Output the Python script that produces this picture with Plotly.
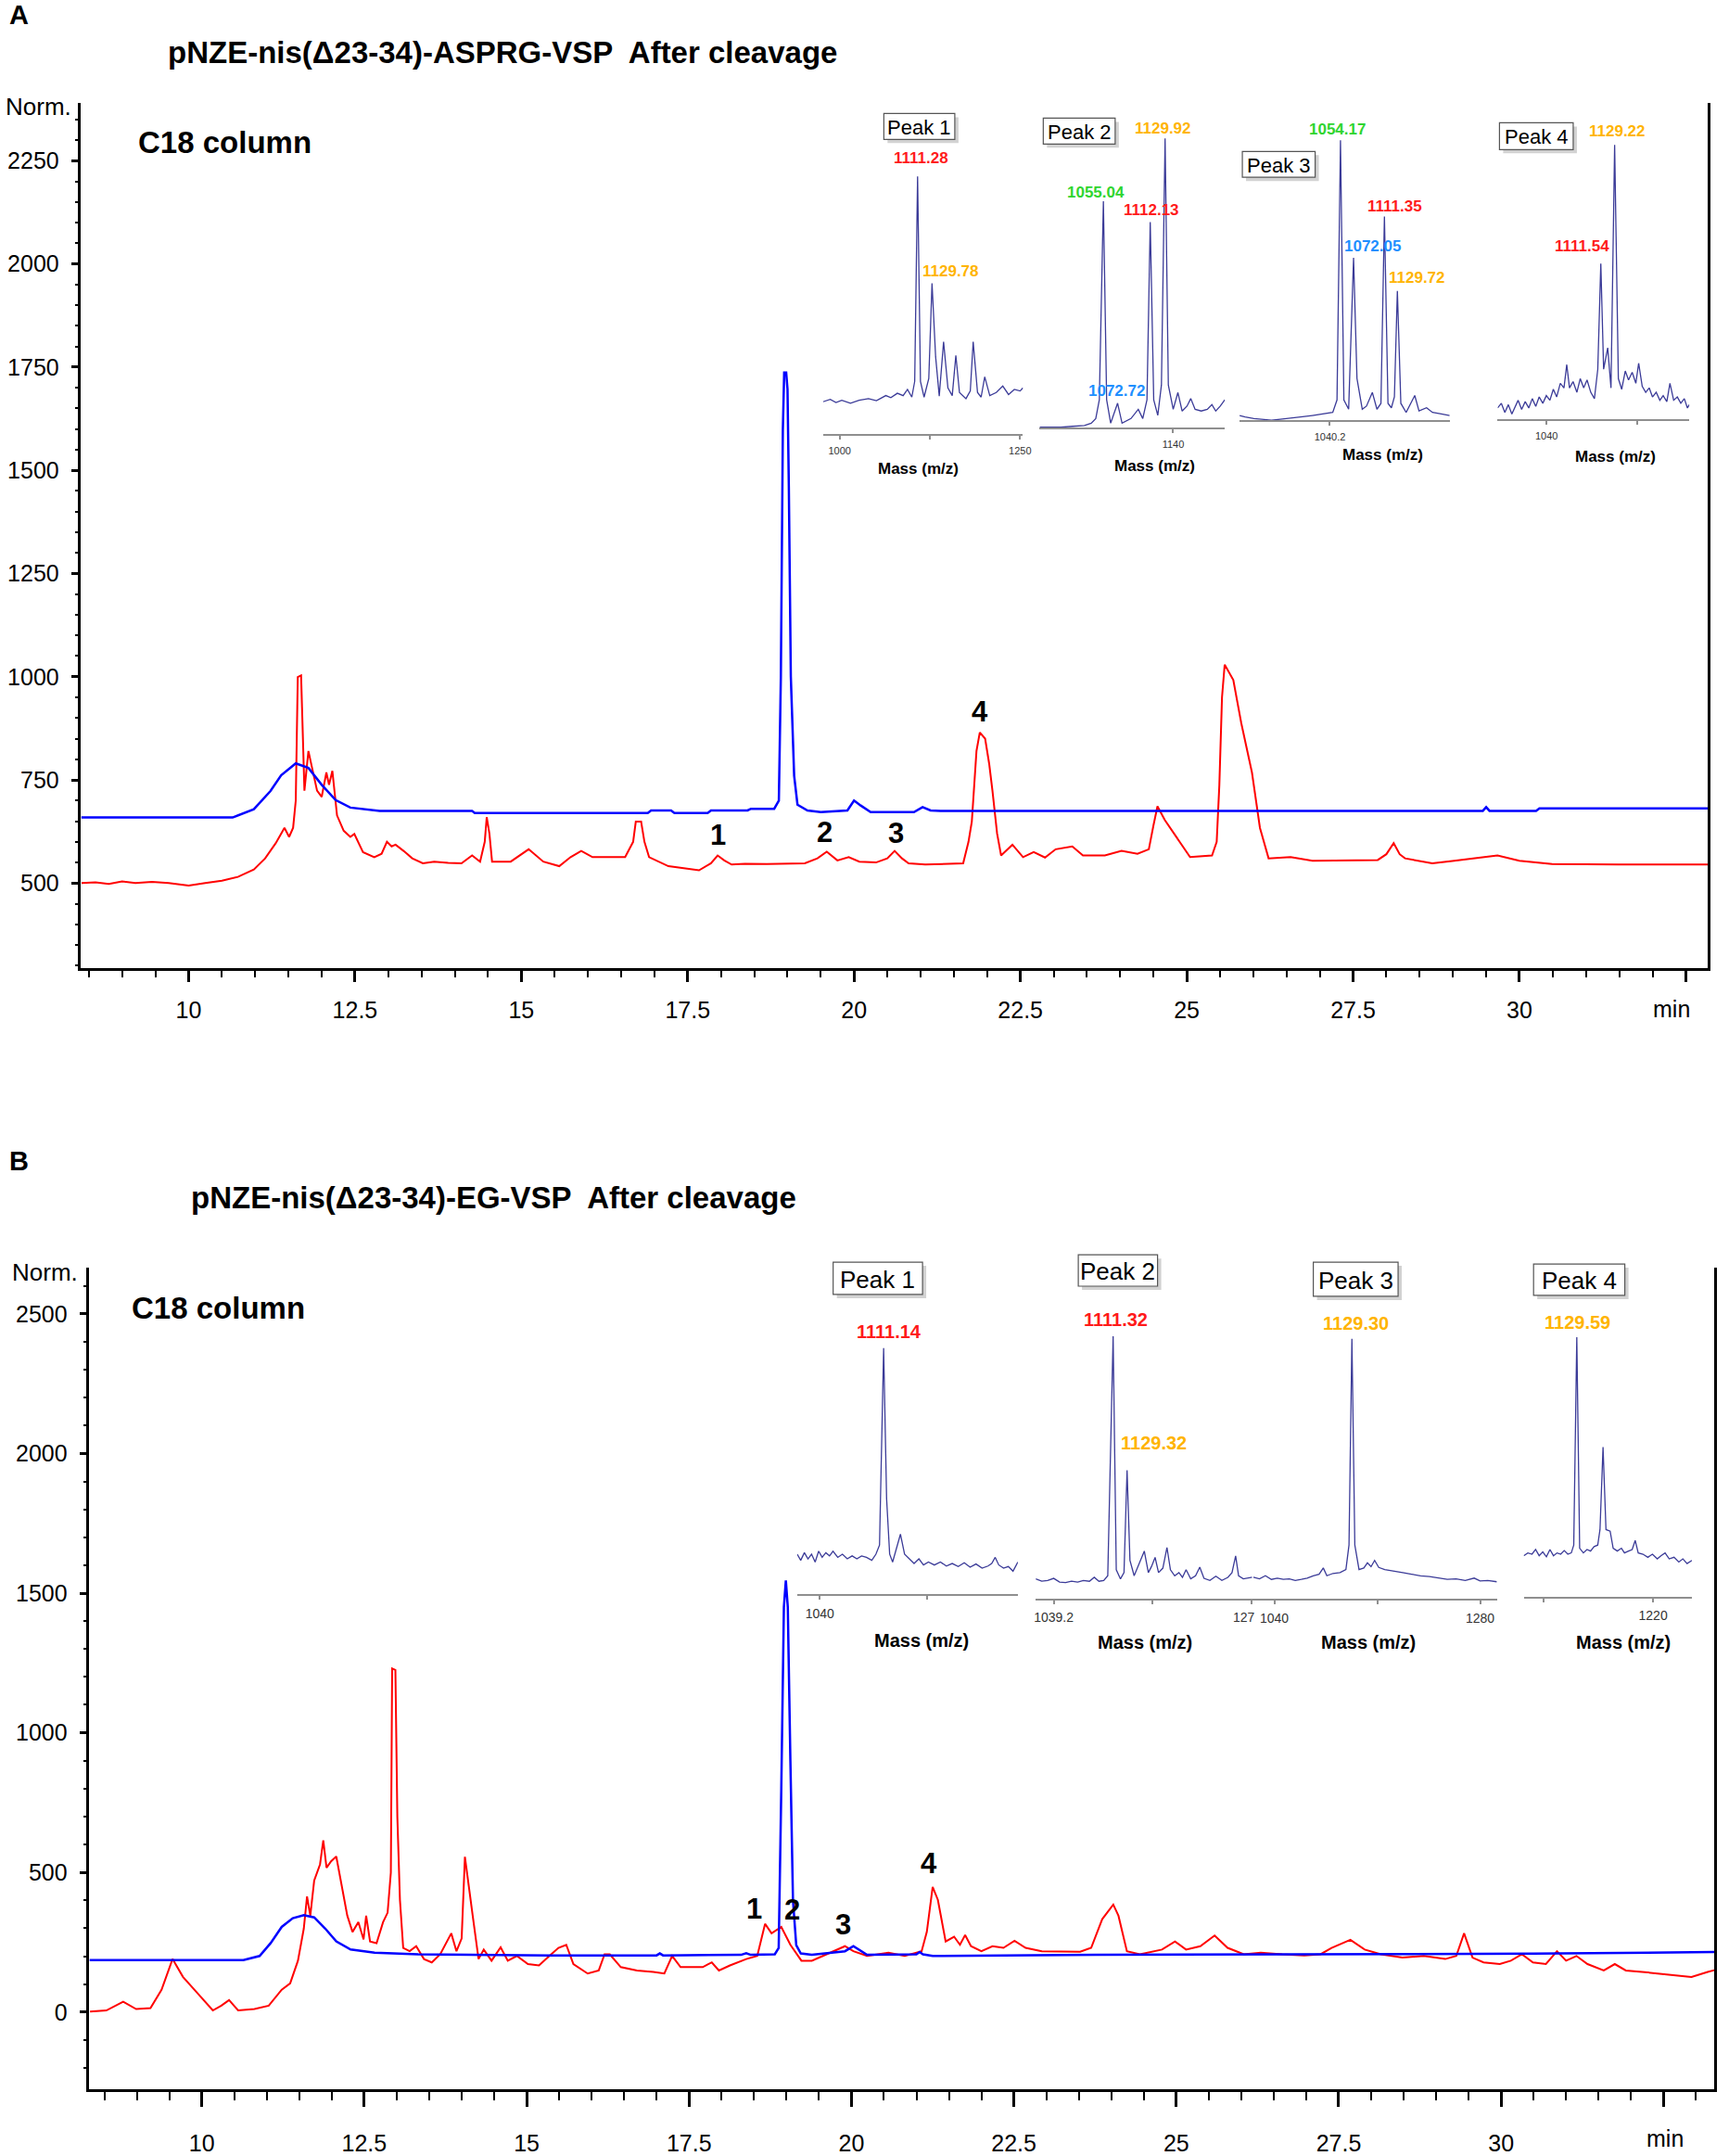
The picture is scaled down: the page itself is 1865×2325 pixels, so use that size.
import plotly.graph_objects as go

W, H = 1865, 2325
FONT = "Liberation Sans, Arial, Helvetica, sans-serif"


def fx(p):
    return p / W


def fy(p):
    return 1 - p / H


# ---------------- Panel A chromatogram (time in min, Norm.) ----------------
a_red_t = [8.39, 8.6, 8.8, 9.0, 9.2, 9.45, 9.7, 9.85, 10.0, 10.25, 10.5, 10.74, 10.98, 11.15, 11.31,
           11.44, 11.51, 11.57, 11.61, 11.64, 11.69, 11.74, 11.8, 11.85, 11.93, 12.0, 12.07, 12.11,
           12.16, 12.23, 12.33, 12.43, 12.49, 12.62, 12.79, 12.9, 12.98, 13.05, 13.11, 13.23, 13.36,
           13.52, 13.69, 13.9, 14.1, 14.26, 14.38, 14.45, 14.48, 14.52, 14.56, 14.84, 15.11, 15.33,
           15.57, 15.74, 15.9, 16.07, 16.56, 16.68, 16.72, 16.8, 16.85, 16.92, 17.21, 17.67, 17.85,
           17.95, 18.05, 18.16, 18.36, 18.69, 19.26, 19.45, 19.59, 19.75, 19.92, 20.08, 20.33, 20.5,
           20.61, 20.72, 20.82, 21.07, 21.64, 21.72, 21.77, 21.84, 21.89, 21.97, 22.03, 22.08, 22.15,
           22.21, 22.38, 22.54, 22.7, 22.87, 23.03, 23.28, 23.44, 23.77, 24.02, 24.26, 24.43, 24.5,
           24.56, 24.67, 24.84, 25.05, 25.38, 25.45, 25.49, 25.53, 25.57, 25.7, 25.82, 25.98, 26.1,
           26.23, 26.56, 26.89, 27.87, 28.0, 28.11, 28.2, 28.28, 28.69, 29.02, 29.67, 30.0, 30.49,
           31.48, 32.83]
a_red_v = [500, 502, 498, 504, 500, 503, 500, 497, 494, 500, 506, 515, 533, 560, 597,
           634, 612, 634, 700, 999, 1003, 724, 820, 783, 724, 709, 768, 738,
           772, 664, 627, 612, 619, 575, 563, 571, 600, 589, 593, 578, 560,
           548, 552, 549, 548, 567, 552, 600, 660, 620, 552, 552, 582, 552,
           541, 563, 578, 563, 563, 600, 649, 649, 600, 563, 541, 531, 548,
           567, 555, 545, 547, 546, 548, 560, 576, 555, 563, 552, 550, 560,
           578, 560, 548, 545, 548, 600, 649, 820, 865, 850, 790, 724, 620,
           567, 593, 563, 575, 562, 582, 589, 567, 567, 578, 571, 582, 640,
           686, 653, 612, 563, 567, 600, 738, 950, 1029, 992, 887, 768, 634,
           560, 563, 554, 556, 570, 597, 570, 560, 548, 554, 567, 554, 546,
           545, 545]

a_blue_t = [8.384, 10.66, 10.98, 11.23, 11.39, 11.61, 11.8, 12.0, 12.21, 12.43, 12.87, 14.26, 14.3,
            16.9, 16.95, 17.25, 17.3, 17.8, 17.85, 18.4, 18.45, 18.8, 18.87, 18.9, 18.93, 18.95,
            18.98, 19.0, 19.02, 19.05, 19.1, 19.15, 19.3, 19.5, 19.9, 20.0, 20.1, 20.25, 20.9,
            21.03, 21.15, 21.3, 25.0, 29.45, 29.5, 29.55, 30.25, 30.3, 32.83]
a_blue_v = [659, 659, 679, 723, 761, 790, 779, 738, 701, 683, 675, 675, 670,
            670, 676, 676, 670, 670, 676, 676, 680, 680, 700, 1000, 1598, 1737,
            1737, 1697, 1460, 1000, 760, 690, 676, 672, 676, 700, 688, 672, 672,
            684, 676, 675, 675, 675, 684, 675, 675, 681, 681]

# ---------------- Panel B chromatogram ----------------
b_red_t = [8.28, 8.53, 8.79, 8.99, 9.21, 9.38, 9.55, 9.71, 9.93, 10.17, 10.3, 10.42, 10.56, 10.81,
           11.03, 11.23, 11.36, 11.48, 11.57, 11.62, 11.67, 11.73, 11.82, 11.87, 11.92, 11.99, 12.07,
           12.15, 12.24, 12.32, 12.41, 12.49, 12.53, 12.59, 12.69, 12.79, 12.86, 12.91, 12.93, 12.98,
           13.01, 13.05, 13.1, 13.2, 13.3, 13.42, 13.54, 13.67, 13.84, 13.92, 14.0, 14.05, 14.09,
           14.17, 14.26, 14.34, 14.46, 14.6, 14.71, 14.85, 15.02, 15.19, 15.35, 15.49, 15.61, 15.72,
           15.94, 16.11, 16.2, 16.28, 16.45, 16.7, 16.95, 17.12, 17.24, 17.37, 17.71, 17.85, 17.96,
           18.13, 18.38, 18.55, 18.67, 18.77, 18.92, 19.06, 19.23, 19.39, 19.56, 19.73, 19.9, 20.03,
           20.24, 20.57, 20.82, 21.08, 21.16, 21.25, 21.33, 21.45, 21.58, 21.67, 21.75, 21.84, 22.0,
           22.17, 22.34, 22.51, 22.68, 22.93, 23.52, 23.69, 23.86, 24.03, 24.11, 24.24, 24.44, 24.78,
           24.98, 25.15, 25.37, 25.59, 25.79, 26.04, 26.3, 26.63, 26.97, 27.22, 27.39, 27.68, 27.9,
           28.15, 28.48, 28.81, 29.14, 29.31, 29.43, 29.56, 29.73, 29.98, 30.15, 30.32, 30.49, 30.69,
           30.86, 31.0, 31.16, 31.33, 31.58, 31.75, 31.92, 32.17, 32.42, 32.68, 32.93, 33.18, 33.28]
b_red_v = [2, 6, 37, 11, 14, 80, 190, 126, 69, 6, 23, 43, 6, 11,
           23, 80, 103, 184, 299, 414, 345, 471, 529, 615, 517, 540, 557,
           460, 345, 287, 322, 260, 345, 253, 247, 322, 356, 500, 1230, 1225,
           700, 402, 230, 218, 236, 190, 178, 207, 282, 218, 264, 556, 480,
           345, 190, 224, 184, 232, 184, 201, 172, 167, 201, 230, 241, 172,
           138, 149, 207, 207, 161, 149, 144, 138, 201, 161, 161, 178, 149,
           167, 190, 201, 316, 282, 305, 241, 184, 184, 201, 218, 236, 218,
           201, 213, 201, 218, 287, 448, 402, 253, 270, 241, 276, 236, 218,
           236, 230, 255, 230, 218, 216, 230, 333, 385, 345, 218, 207, 224,
           253, 224, 236, 274, 230, 207, 213, 207, 203, 207, 230, 259, 224,
           207, 195, 201, 190, 201, 282, 195, 178, 172, 184, 207, 178, 172,
           218, 184, 201, 172, 149, 172, 149, 144, 138, 132, 126, 144, 150]

b_blue_t = [8.27, 10.64, 10.89, 11.06, 11.23, 11.4, 11.57, 11.73, 11.9, 12.07, 12.29, 12.66, 13.33,
            15.35, 17.0, 17.05, 17.1, 18.3, 18.38, 18.45, 18.82, 18.88, 18.92, 18.96, 18.99, 19.02,
            19.06, 19.10, 19.15, 19.22, 19.39, 19.9, 20.03, 20.24, 21.0, 21.05, 21.1, 21.25, 23.76,
            27.13, 30.5, 33.28]
b_blue_v = [186, 186, 201, 247, 305, 336, 347, 339, 299, 253, 224, 213, 207,
            203, 203, 210, 203, 205, 211, 205, 207, 230, 800, 1450, 1545, 1450,
            900, 400, 240, 210, 205, 218, 236, 205, 207, 215, 207, 201, 205,
            207, 209, 215]

# ---------------- Inset mass spectra (m/z, relative intensity %) ----------------
sa1_mz = [977, 987, 995, 1003, 1015, 1027, 1040, 1051, 1064, 1071, 1080, 1088, 1094, 1100, 1104, 1108,
          1112, 1117, 1123.5, 1128, 1133, 1138, 1144, 1150, 1156, 1161, 1166, 1175, 1181, 1185, 1191,
          1196, 1201, 1208, 1217, 1226, 1234, 1242, 1250, 1254]
sa1_int = [12.5, 13.4, 12.2, 13.1, 11.9, 13.1, 13.7, 12.9, 14.9, 14.1, 15.8, 14.9, 17.3, 14.3, 20.4, 100,
           20.4, 14.3, 21.5, 58.5, 29.9, 14.7, 35.8, 17.9, 14.9, 30.5, 16.1, 13.7, 16.7, 35.8, 16.1,
           14.3, 22.2, 14.9, 16.1, 18.6, 15.3, 17.3, 16.7, 17.9]

sa2_mz = [975.4, 987, 1001.5, 1016, 1030.6, 1039, 1044.6, 1049, 1054, 1058, 1063, 1071.5, 1077, 1088,
          1097, 1102.5, 1107.7, 1111.7, 1116, 1121, 1125.5, 1130, 1134, 1140, 1145.8, 1151, 1157,
          1161.6, 1167, 1174.6, 1182, 1187.7, 1192.4, 1198, 1203.6]
sa2_int = [0.1, 0, 0.1, 0.4, 0.7, 1.5, 3.1, 9.6, 78.3, 9.6, 1.5, 8.4, 1.5, 3.1,
           6.3, 3.1, 9.6, 71.1, 9.6, 4.2, 14.7, 100, 14.7, 6.3, 12.1, 5.7, 7.4,
           10.0, 6.3, 5.7, 6.3, 7.9, 5.7, 7.4, 9.6]

sa3_mz = [920.8, 928.1, 939.8, 951.4, 963, 974.5, 986.2, 1001.5, 1017, 1032.5, 1044, 1049.6, 1054.2,
          1058.7, 1065, 1071.5, 1076, 1083, 1088.6, 1096.3, 1102.4, 1107.7, 1112.3, 1117, 1121.5,
          1125.5, 1129.4, 1134, 1141, 1152.4, 1158, 1168, 1175.8, 1187.5, 1198.6]
sa3_int = [1.65, 1.1, 0.56, 0.3, 0, 0.3, 0.56, 1.1, 1.65, 2.2, 2.75, 7.2, 100,
           7.2, 3.9, 58, 14.9, 3.9, 5.0, 9.9, 3.9, 6.0, 72.8, 6.0, 4.4,
           8.3, 46.2, 6.0, 2.75, 8.8, 3.3, 4.4, 2.75, 2.2, 1.65]

sa4_mz = [975.7, 980.6, 985.2, 989.8, 994.4, 999, 1002.7, 1007.3, 1012, 1016.7, 1021.3, 1025.9, 1030.4,
          1035.2, 1039.8, 1044.5, 1049, 1053.4, 1058.2, 1063, 1066.7, 1070.3, 1075, 1080, 1084.4,
          1089, 1093.4, 1098.3, 1103.1, 1107.5, 1111.5, 1115.2, 1120.6, 1124.9, 1129.7, 1134.6,
          1139, 1143.7, 1148, 1152.8, 1157.6, 1161.3, 1166, 1170.6, 1175.2, 1179.5, 1184.4, 1189.2,
          1193.6, 1198.4, 1202.5, 1207.4, 1212.2, 1216.8, 1221.4, 1225.5, 1228]
sa4_int = [4.1, 5.8, 2.5, 5.3, 1.9, 4.7, 6.9, 3.6, 6.4, 4.1, 7.5, 4.7, 8.1,
           5.8, 8.6, 6.9, 10.9, 8.1, 13.1, 11.4, 19.9, 11.4, 13.7, 9.8, 14.8,
           11.4, 14.3, 9.8, 7.5, 18.2, 56.7, 18.2, 26.0, 11.4, 100, 14.8,
           10.9, 17.6, 14.3, 17.1, 13.1, 20.4, 12.0, 9.8, 11.4, 8.1, 9.8, 6.9,
           8.6, 6.4, 13.1, 6.9, 8.1, 5.8, 7.5, 4.1, 5.3]

sb1_mz = [1014.8, 1018.7, 1022.8, 1026.8, 1030.8, 1034.8, 1038.7, 1042.6, 1046.7, 1050.8, 1054.7, 1060,
          1065.2, 1070.6, 1076, 1081.3, 1086.5, 1091.9, 1097.9, 1102.5, 1106.5, 1111.1, 1114.4,
          1117.8, 1121.1, 1125.1, 1129.8, 1134.4, 1139.7, 1145, 1150.4, 1155.5, 1161, 1167.6, 1174.3,
          1181, 1187.5, 1194.2, 1200.9, 1207.4, 1214, 1220.8, 1227.4, 1231.5, 1235.4, 1239.4, 1244.7,
          1250, 1255.2, 1260.6]
sb1_int = [16.3, 13.8, 16.9, 14.4, 16.3, 13.1, 17.5, 15.0, 16.9, 15.6, 17.5, 15.0,
           16.3, 14.4, 15.6, 14.4, 15.6, 15.0, 13.8, 16.3, 20.0, 100, 38.8,
           16.3, 13.1, 18.8, 24.4, 16.3, 14.4, 12.5, 14.4, 11.9, 13.1, 11.9, 13.1,
           11.5, 12.5, 11.3, 12.8, 11.0, 12.3, 10.6, 11.5, 12.5, 15.0, 11.9, 10.6,
           11.3, 9.4, 13.1]

sb2_mz = [1017.4, 1024.7, 1031.9, 1039.2, 1046.4, 1053.6, 1060.9, 1068.2, 1075.3, 1082.5, 1088.4,
          1094.1, 1099.9, 1104.8, 1111.3, 1115.1, 1120.2, 1124.5, 1128.2, 1131.7, 1136.8, 1143.4,
          1149.1, 1154, 1157.8, 1162.2, 1166.4, 1171.6, 1176.6, 1180.8, 1186, 1191.1, 1195.4, 1199.8,
          1205.4, 1211.3, 1216.4, 1221.5, 1228.7, 1235.9, 1243.2, 1250.5, 1255.5, 1259.9, 1263.5,
          1269.2, 1275.1, 1280.1]
sb2_int = [7.4, 6.5, 6.8, 7.6, 6.2, 6.0, 6.5, 6.2, 6.8, 6.5, 8.0,
           6.5, 6.8, 8.6, 100, 10.9, 7.4, 9.8, 48.9, 14.5, 8.6, 13.3,
           18.0, 9.8, 12.1, 15.6, 9.8, 11.5, 19.4, 10.9, 8.6, 9.8, 8.0, 10.9,
           7.4, 8.6, 11.9, 7.6, 6.8, 8.4, 6.8, 8.0, 9.8, 16.2, 8.6,
           7.4, 7.6, 8.0]

sb3_mz = [1015.6, 1022.7, 1029.6, 1036.6, 1043.5, 1050.5, 1057.5, 1064.4, 1071.5, 1078.3, 1085.3,
          1092.2, 1097.1, 1101.3, 1108.3, 1116.6, 1123.5, 1127.1, 1130.5, 1133.9, 1138.8, 1144.4,
          1148.6, 1152.8, 1157, 1161.8, 1168.8, 1179.2, 1189.7, 1200, 1210.5, 1220.9, 1231.3, 1241.7,
          1252, 1262.7, 1273.1, 1280, 1289, 1299.6]
sb3_int = [8.3, 7.7, 8.9, 7.5, 8.0, 7.5, 7.7, 7.1, 7.5, 8.0, 8.9,
           9.5, 11.9, 8.9, 9.8, 10.1, 11.3, 20.7, 100, 20.7, 11.3, 11.9,
           13.9, 12.4, 14.8, 12.1, 11.3, 10.6, 10.1, 9.5, 8.9, 8.6, 8.0, 7.5,
           7.7, 7.1, 8.0, 6.9, 7.1, 6.6]

sb4_mz = [1066.7, 1071.6, 1076.5, 1080.8, 1085, 1089.3, 1093.6, 1097.8, 1102, 1106.2, 1110.5, 1114.7,
          1119, 1123.1, 1126, 1129.6, 1133, 1137.4, 1141.7, 1145.9, 1150.1, 1154.4, 1157.1, 1160.7,
          1164.2, 1169.1, 1172.7, 1177.6, 1182.5, 1186.1, 1191, 1195.2, 1198.8, 1202.4, 1208, 1213.8,
          1219.2, 1225, 1229.3, 1234.2, 1239.1, 1244.8, 1250.5, 1255.3, 1260.3, 1266]
sb4_int = [15.7, 16.8, 16.3, 18.1, 15.7, 17.2, 15.3, 18.1, 15.7, 16.8, 16.3, 17.7,
           16.3, 16.8, 19.8, 100, 18.6, 16.8, 18.1, 17.5, 19.2, 19.8, 25.8, 57.6,
           25.8, 25.2, 18.6, 17.5, 18.6, 16.8, 17.5, 18.1, 21.6, 16.8, 16.3, 15.1,
           16.3, 14.5, 15.7, 16.8, 14.5, 15.1, 13.3, 14.5, 12.7, 13.9]

# ---------------- Figure ----------------
fig = go.Figure()
RED = "#ff0000"
BLUE = "#0000ff"
SPEC = "#3b3b98"

fig.add_trace(go.Scatter(x=a_red_t, y=a_red_v, mode="lines", line=dict(color=RED, width=2),
                         xaxis="x", yaxis="y", hoverinfo="skip"))
fig.add_trace(go.Scatter(x=a_blue_t, y=a_blue_v, mode="lines", line=dict(color=BLUE, width=2.5),
                         xaxis="x", yaxis="y", hoverinfo="skip"))
fig.add_trace(go.Scatter(x=b_red_t, y=b_red_v, mode="lines", line=dict(color=RED, width=2),
                         xaxis="x2", yaxis="y2", hoverinfo="skip"))
fig.add_trace(go.Scatter(x=b_blue_t, y=b_blue_v, mode="lines", line=dict(color=BLUE, width=2.5),
                         xaxis="x2", yaxis="y2", hoverinfo="skip"))

axis_font = dict(family=FONT, size=25, color="black")

layout = dict(
    width=W, height=H, autosize=False,
    margin=dict(l=0, r=0, t=0, b=0),
    paper_bgcolor="white", plot_bgcolor="white",
    showlegend=False,
    font=dict(family=FONT, color="black"),
)

# Panel A axes
layout["xaxis"] = dict(
    domain=[fx(86), fx(1851)], range=[8.384, 32.83], anchor="y",
    showline=True, linecolor="black", linewidth=2.5, showgrid=False, zeroline=False,
    tickmode="array", tickvals=[10, 12.5, 15, 17.5, 20, 22.5, 25, 27.5, 30, 32.5],
    ticktext=["10", "12.5", "15", "17.5", "20", "22.5", "25", "27.5", "30", ""],
    ticks="outside", ticklen=12, tickwidth=2.5, tickcolor="black",
    tickfont=axis_font, ticklabelstandoff=9,
    minor=dict(ticks="outside", ticklen=7, tickwidth=2, tickcolor="black", dtick=0.5, tick0=0,
               showgrid=False),
    fixedrange=True,
)
layout["yaxis"] = dict(
    domain=[fy(1049), fy(111)], range=[293, 2391], anchor="x",
    showline=True, linecolor="black", linewidth=2.5, mirror=True, showgrid=False, zeroline=False,
    tickmode="array", tickvals=[500, 750, 1000, 1250, 1500, 1750, 2000, 2250],
    ticks="outside", ticklen=8, tickwidth=2.5, tickcolor="black",
    tickfont=axis_font, ticklabelstandoff=8,
    minor=dict(ticks="outside", ticklen=4, tickwidth=2, tickcolor="black", dtick=50, tick0=0,
               showgrid=False),
    fixedrange=True,
)
# Panel B axes
layout["xaxis2"] = dict(
    domain=[fx(95), fx(1858)], range=[8.27, 33.28], anchor="y2",
    showline=True, linecolor="black", linewidth=2.5, showgrid=False, zeroline=False,
    tickmode="array", tickvals=[10, 12.5, 15, 17.5, 20, 22.5, 25, 27.5, 30, 32.5],
    ticktext=["10", "12.5", "15", "17.5", "20", "22.5", "25", "27.5", "30", ""],
    ticks="outside", ticklen=16, tickwidth=2.5, tickcolor="black",
    tickfont=axis_font, ticklabelstandoff=18,
    minor=dict(ticks="outside", ticklen=9, tickwidth=2, tickcolor="black", dtick=0.5, tick0=0,
               showgrid=False),
    fixedrange=True,
)
layout["yaxis2"] = dict(
    domain=[fy(2263), fy(1373)], range=[-277, 2665], anchor="x2",
    showline=True, linecolor="black", linewidth=2.5, mirror=True, showgrid=False, zeroline=False,
    tickmode="array", tickvals=[0, 500, 1000, 1500, 2000, 2500],
    ticks="outside", ticklen=8, tickwidth=2.5, tickcolor="black",
    tickfont=axis_font, ticklabelstandoff=8,
    minor=dict(ticks="outside", ticklen=4, tickwidth=2, tickcolor="black", dtick=100, tick0=0,
               showgrid=False),
    fixedrange=True,
)

# Inset definitions (pixel placement only)
insets = [
    dict(mz=sa1_mz, it=sa1_int, xl=891, xr=1108, ay=470, ty=191, r=(977, 1254),
         tv=[1000, 1125, 1250], tt=["1000", "", "1250"], fs=11),
    dict(mz=sa2_mz, it=sa2_int, xl=1126, xr=1327, ay=463, ty=150, r=(975.4, 1203.6),
         tv=[1140], tt=["1140"], fs=11),
    dict(mz=sa3_mz, it=sa3_int, xl=1343, xr=1571, ay=455, ty=152, r=(920.8, 1198.6),
         tv=[1040.2], tt=["1040.2"], fs=11),
    dict(mz=sa4_mz, it=sa4_int, xl=1623, xr=1831, ay=454, ty=157, r=(975.7, 1228),
         tv=[1040, 1160], tt=["1040", ""], fs=11),
    dict(mz=sb1_mz, it=sb1_int, xl=863, xr=1102.4, ay=1726.7, ty=1460, r=(1014.8, 1260.6),
         tv=[1040, 1160], tt=["1040", ""], fs=14),
    dict(mz=sb2_mz, it=sb2_int, xl=1121.8, xr=1356.8, ay=1731, ty=1447.3, r=(1017.4, 1280.1),
         tv=[1039.2, 1159.2, 1279.2], tt=["1039.2", "", ""], fs=14),
    dict(mz=sb3_mz, it=sb3_int, xl=1356.8, xr=1622.2, ay=1731.7, ty=1450, r=(1014.3, 1299.6),
         tv=[1040, 1160, 1280], tt=["1040", "", "1280"], fs=14),
    dict(mz=sb4_mz, it=sb4_int, xl=1651.3, xr=1833.8, ay=1729, ty=1448.3, r=(1066.7, 1266),
         tv=[1090, 1220], tt=["", "1220"], fs=14),
]

for i, ins in enumerate(insets):
    n = i + 3
    xa, ya = "x%d" % n, "y%d" % n
    top_px = ins["ay"] - 1.06 * (ins["ay"] - ins["ty"])
    fig.add_trace(go.Scatter(x=ins["mz"], y=ins["it"], mode="lines",
                             line=dict(color=SPEC, width=1.3), xaxis=xa, yaxis=ya,
                             hoverinfo="skip"))
    layout["xaxis%d" % n] = dict(
        domain=[fx(ins["xl"]), fx(ins["xr"])], range=list(ins["r"]), anchor=ya,
        showline=True, linecolor="#8f8f8f", linewidth=2, showgrid=False, zeroline=False,
        tickmode="array", tickvals=ins["tv"], ticktext=ins["tt"],
        ticks="outside", ticklen=4, tickwidth=1.5, tickcolor="#8f8f8f",
        tickfont=dict(family=FONT, size=ins["fs"], color="#333333"), ticklabelstandoff=3,
        fixedrange=True,
    )
    layout["yaxis%d" % n] = dict(
        domain=[fy(ins["ay"]), fy(top_px)], range=[0, 106], anchor=xa,
        visible=False, fixedrange=True,
    )

annotations = []
shapes = []


def ann(text, x, y, size, color="black", bold=False, xanchor="center"):
    t = "<b>%s</b>" % text if bold else text
    annotations.append(dict(text=t, x=fx(x), y=fy(y), xref="paper", yref="paper",
                            xanchor=xanchor, yanchor="middle", showarrow=False,
                            font=dict(family=FONT, size=size, color=color)))


def peak_box(label, x0, y0, x1, y1, size):
    shapes.append(dict(type="rect", xref="paper", yref="paper",
                       x0=fx(x0 + 4), x1=fx(x1 + 4), y0=fy(y1 + 4), y1=fy(y0 + 4),
                       fillcolor="#d2d2d2", line=dict(width=0), layer="above"))
    shapes.append(dict(type="rect", xref="paper", yref="paper",
                       x0=fx(x0), x1=fx(x1), y0=fy(y1), y1=fy(y0),
                       fillcolor="white", line=dict(color="#555555", width=1.2), layer="above"))
    ann(label, (x0 + x1) / 2, (y0 + y1) / 2 + 1, size)


# Panel headings
ann("A", 6, 16, 29, bold=True, xanchor="left")
ann("pNZE-nis(Δ23-34)-ASPRG-VSP  After cleavage", 178, 57, 33, bold=True, xanchor="left")
ann("Norm.", 2, 115, 26, xanchor="left")
ann("C18 column", 146, 154, 33, bold=True, xanchor="left")
ann("min", 1812, 1093, 25)

ann("B", 6, 1257, 29, bold=True, xanchor="left")
ann("pNZE-nis(Δ23-34)-EG-VSP  After cleavage", 203, 1297, 33, bold=True, xanchor="left")
ann("Norm.", 9, 1378, 26, xanchor="left")
ann("C18 column", 139, 1417, 33, bold=True, xanchor="left")
ann("min", 1805, 2316, 25)

# Peak numbers on chromatograms
for txt, x, y in [("1", 777, 904), ("2", 893, 901), ("3", 970, 902), ("4", 1061, 771),
                  ("1", 816, 2067), ("2", 858, 2068), ("3", 913, 2084), ("4", 1006, 2018)]:
    ann(txt, x, y, 31, bold=True)

# Panel A inset labels
C_RED, C_GRN, C_BLU, C_ORG = "#ff1a1a", "#2fd52f", "#1e8fff", "#ffb400"
peak_box("Peak 1", 957, 123, 1034, 151, 22)
peak_box("Peak 2", 1130, 128, 1208, 156, 22)
peak_box("Peak 3", 1346, 164, 1425, 192, 22)
peak_box("Peak 4", 1625, 133, 1705, 162, 22)
ann("1111.28", 997, 171, 17, C_RED, True)
ann("1129.78", 1030, 294, 17, C_ORG, True)
ann("1129.92", 1260, 139, 17, C_ORG, True)
ann("1055.04", 1187, 208, 17, C_GRN, True)
ann("1112.13", 1247, 227, 17, C_RED, True)
ann("1072.72", 1210, 423, 17, C_BLU, True)
ann("1054.17", 1449, 140, 17, C_GRN, True)
ann("1111.35", 1511, 223, 17, C_RED, True)
ann("1072.05", 1487, 267, 17, C_BLU, True)
ann("1129.72", 1536, 301, 17, C_ORG, True)
ann("1129.22", 1753, 142, 17, C_ORG, True)
ann("1111.54", 1715, 267, 17, C_RED, True)
ann("Mass (m/z)", 994, 508, 17, bold=True)
ann("Mass (m/z)", 1251, 505, 17, bold=True)
ann("Mass (m/z)", 1498, 493, 17, bold=True)
ann("Mass (m/z)", 1751, 495, 17, bold=True)

# Panel B inset labels
peak_box("Peak 1", 902, 1367, 999, 1402, 26)
peak_box("Peak 2", 1168, 1359, 1254, 1393, 26)
peak_box("Peak 3", 1423, 1367, 1515, 1404, 26)
peak_box("Peak 4", 1662, 1369, 1761, 1403, 26)
ann("1111.14", 963, 1442, 20, C_RED, True)
ann("1111.32", 1209, 1429, 20, C_RED, True)
ann("1129.32", 1250, 1563, 20, C_ORG, True)
ann("1129.30", 1469, 1433, 20, C_ORG, True)
ann("1129.59", 1710, 1432, 20, C_ORG, True)
ann("127", 1348, 1752, 14, "#333333")
ann("Mass (m/z)", 998, 1777, 20, bold=True)
ann("Mass (m/z)", 1240, 1779, 20, bold=True)
ann("Mass (m/z)", 1483, 1779, 20, bold=True)
ann("Mass (m/z)", 1759, 1779, 20, bold=True)

layout["annotations"] = annotations
layout["shapes"] = shapes
fig.update_layout(**layout)

fig.write_html(
    "out.html",
    config={"displayModeBar": False},
    post_script="document.body.style.margin='0px';document.body.style.padding='0px';"
                "document.documentElement.style.margin='0px';",
)
